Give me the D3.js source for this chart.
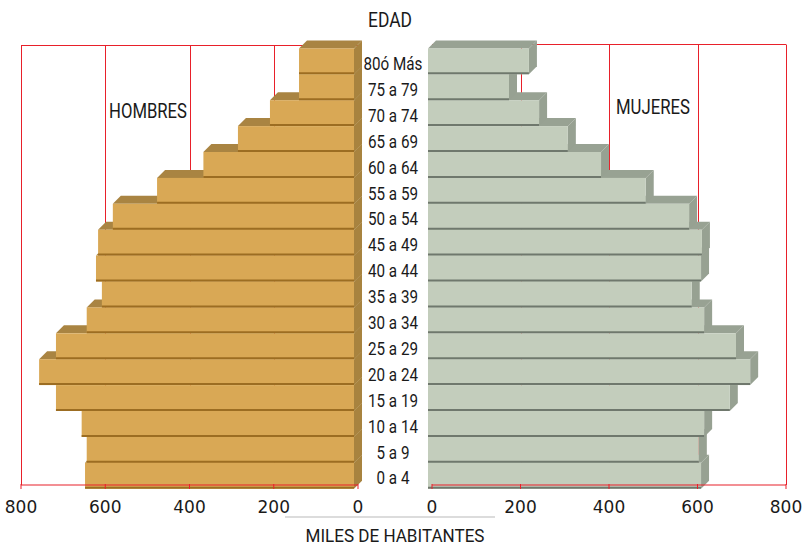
<!DOCTYPE html>
<html>
<head>
<meta charset="utf-8">
<script src="https://cdn.jsdelivr.net/npm/d3@7"></script>
<style>
  body { margin: 0; background: #fff; }
  text { fill: #1a1a1a; }
  .narrow { font-family: Roboto, "DejaVu Sans Condensed", sans-serif; }
  .num { font-family: "DejaVu Sans", Verdana, sans-serif; }
</style>
</head>
<body>
<svg id="chart" width="812" height="545"></svg>
<script>
// grupos de edad, de abajo hacia arriba
const ageGroups = ["0 a 4", "5 a 9", "10 a 14", "15 a 19", "20 a 24", "25 a 29", "30 a 34",
  "35 a 39", "40 a 44", "45 a 49", "50 a 54", "55 a 59", "60 a 64", "65 a 69",
  "70 a 74", "75 a 79", "80ó Más"];
// miles de habitantes
const hombres = [648, 644, 656, 717, 757, 717, 644, 608, 622, 617, 582, 477, 367, 285, 209, 140, 140];
const mujeres = [608, 603, 615, 673, 719, 687, 615, 587, 608, 610, 581, 483, 382, 307, 242, 174, 219];
const tickValues = [0, 200, 400, 600, 800];

const svg = d3.select("#chart");

const red = "#e8202a";
const D = 8;      // profundidad 3D
const gap = 4;    // las barras empiezan un poco antes del 0

const xL = d3.scaleLinear().domain([0, 800]).range([358, 21]);
const xR = d3.scaleLinear().domain([0, 800]).range([432, 786]);
const y = d3.scaleBand().domain(ageGroups.slice().reverse()).range([48.4, 488.7]).padding(0);
const bw = y.bandwidth();

const gridTop = 45.5, axisY = 485;

// rejilla roja (detras de las barras)
function grid(scale, top) {
    svg.append("line")
        .attr("x1", scale(0)).attr("x2", scale(800))
        .attr("y1", top).attr("y2", top)
        .attr("stroke", red).attr("stroke-width", 1);
    svg.selectAll(null)
        .data(tickValues.filter(d => d > 0))
        .enter()
        .append("line")
        .attr("x1", d => Math.round(scale(d)) + 0.5)
        .attr("x2", d => Math.round(scale(d)) + 0.5)
        .attr("y1", top).attr("y2", axisY)
        .attr("stroke", red).attr("stroke-width", 1);
}
grid(xL, gridTop);
grid(xR, 44.5);

function pts(list) { return list.map(p => p.join(",")).join(" "); }

// dibuja una barra con cara superior, lateral y frontal
function drawBars(values, side, colors) {
    const g = svg.append("g");
    values.forEach((v, i) => {
        let x1, x2;
        if (side == "left") { x1 = xL(v); x2 = xL(0) - gap; }
        else { x1 = xR(0) - gap; x2 = xR(v); }
        const y1 = y(ageGroups[i]);
        const y2 = y1 + bw;

        g.append("polygon")
            .attr("points", pts([[x1, y1], [x2, y1], [x2 + D, y1 - D], [x1 + D, y1 - D]]))
            .attr("fill", colors.top);
        g.append("polygon")
            .attr("points", pts([[x2, y1], [x2 + D, y1 - D], [x2 + D, y2 - D], [x2, y2]]))
            .attr("fill", colors.side);
        g.append("rect")
            .attr("x", x1).attr("y", y1)
            .attr("width", x2 - x1).attr("height", bw)
            .attr("fill", colors.front);
        g.append("line")
            .attr("x1", x1).attr("x2", x2)
            .attr("y1", y2 - 1).attr("y2", y2 - 1)
            .attr("stroke", colors.edge).attr("stroke-width", 2);
    });
}

drawBars(hombres, "left", { front: "#d9a855", top: "#a98442", side: "#a8833f", edge: "#9c6d22" });
drawBars(mujeres, "right", { front: "#c3cdbc", top: "#98a293", side: "#97a192", edge: "#6f786d" });

// ejes inferiores (por encima de las barras)
function axis(scale) {
    svg.append("line")
        .attr("x1", scale(0)).attr("x2", scale(800))
        .attr("y1", axisY).attr("y2", axisY)
        .attr("stroke", red).attr("stroke-width", 1.2);
    svg.selectAll(null)
        .data(tickValues)
        .enter()
        .append("line")
        .attr("x1", d => scale(d)).attr("x2", d => scale(d))
        .attr("y1", axisY - 1).attr("y2", axisY + 4)
        .attr("stroke", red).attr("stroke-width", 1);
    svg.selectAll(null)
        .data(tickValues)
        .enter()
        .append("text")
        .attr("class", "num")
        .attr("x", d => scale(d))
        .attr("y", 513)
        .attr("text-anchor", "middle")
        .attr("font-size", 17)
        .text(d => d);
}
axis(xL);
axis(xR);

// fuente condensada: se estrecha el texto con textLength
function squeeze(sel, k) {
    sel.each(function () {
        const w = this.getComputedTextLength();
        d3.select(this)
            .attr("textLength", w * k)
            .attr("lengthAdjust", "spacingAndGlyphs");
    });
}

// etiquetas de edad
const ageText = svg.selectAll(null)
    .data(ageGroups)
    .enter()
    .append("text")
    .attr("class", "narrow")
    .attr("x", 393)
    .attr("y", d => y(d) + bw / 2 + 8.7)
    .attr("text-anchor", "middle")
    .attr("font-size", 18.7)
    .text(d => d);
const refW = ageText.filter(d => d == "55 a 59").node().getComputedTextLength();
squeeze(ageText, 50 / refW);

svg.append("line")
    .attr("x1", 285).attr("x2", 495)
    .attr("y1", 517).attr("y2", 517)
    .attr("stroke", "#d0d0d0").attr("stroke-width", 1.5);

const titles = [
    { t: "EDAD", x: 390, y: 26.7, s: 20, w: 44 },
    { t: "HOMBRES", x: 148, y: 118, s: 20.5, w: 78 },
    { t: "MUJERES", x: 653, y: 114, s: 20.5, w: 74 },
    { t: "MILES DE HABITANTES", x: 395, y: 541.5, s: 19, w: 179 }
];
svg.selectAll(null)
    .data(titles)
    .enter()
    .append("text")
    .attr("class", "narrow")
    .attr("x", d => d.x)
    .attr("y", d => d.y)
    .attr("text-anchor", "middle")
    .attr("font-size", d => d.s)
    .attr("textLength", d => d.w)
    .attr("lengthAdjust", "spacingAndGlyphs")
    .text(d => d.t);
</script>
</body>
</html>
